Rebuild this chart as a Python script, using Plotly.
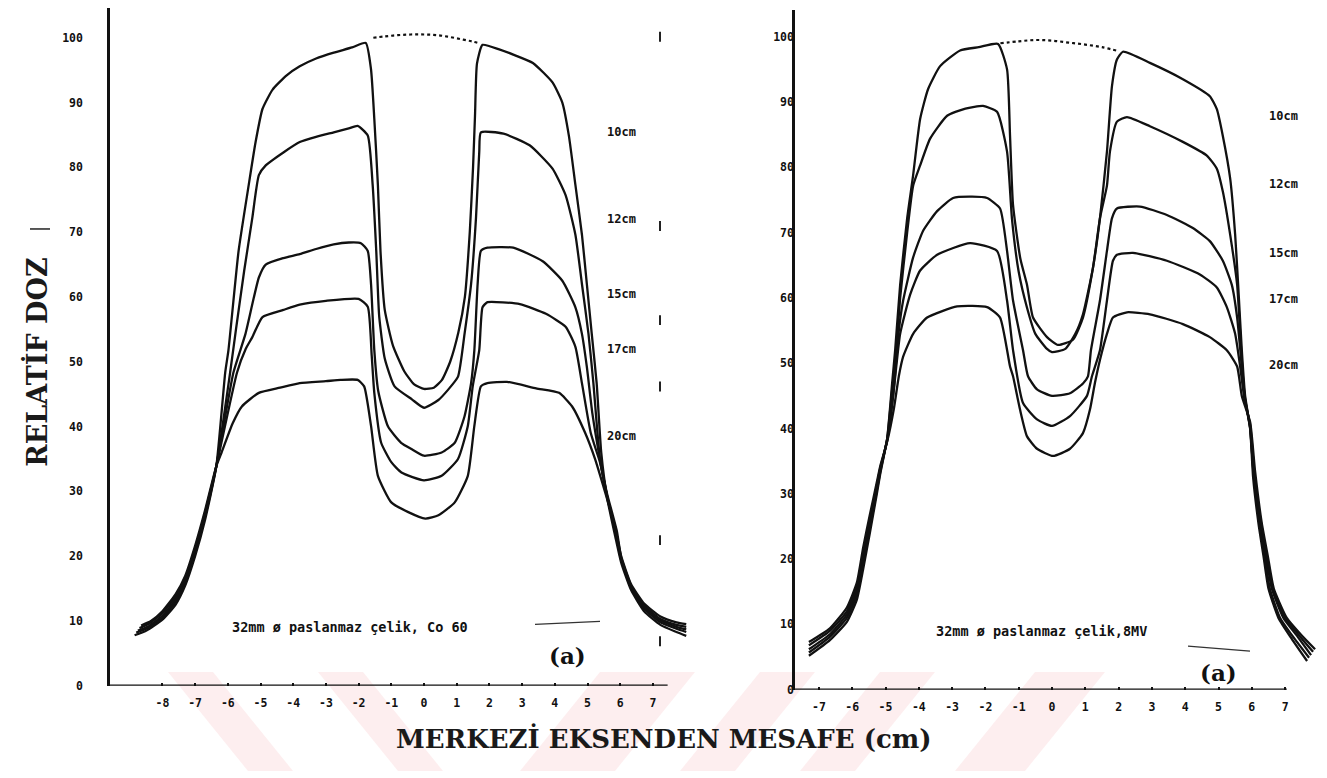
import plotly.graph_objects as go

# The page body has an 8px margin, so the figure is drawn 8px smaller and all
# reference pixel positions are shifted by 8px when converted to paper units.
REF_W, REF_H = 1327, 778
OFF = 8
FW, FH = REF_W - OFF, REF_H - OFF

# ---------------- data: left panel (Co 60) ----------------
L10_x = [-8.85,-8.5,-8.0,-7.6,-7.3,-7.0,-6.7,-6.35,-6.08,-5.98,-5.67,-5.36,-5.15,-4.94,-4.63,-4.2,-3.8,-3.3,-2.76,-2.2,
         -1.78,-1.62,-1.52,-1.41,-1.33,-1.2,-0.95,-0.6,-0.3,0.0,0.3,0.55,0.8,1.05,1.25,1.4,1.5,1.56,1.62,1.79,
         2.3,2.73,3.33,3.93,4.23,4.43,4.63,4.83,4.98,5.13,5.28,5.42,5.6,5.85,6.03,6.33,6.73,7.23,7.72,8.02]
L10_y = [7.8,8.5,10.2,12.5,15.5,20.0,25.5,33.9,48.3,51.8,67.1,77.3,83.9,89.0,92.0,94.2,95.6,96.8,97.7,98.5,
         99.2,95.1,87.5,77.3,67.0,58.0,52.5,48.5,46.5,45.8,46.0,47.2,50.0,54.5,60.0,70.0,80.0,88.0,96.0,98.9,
         98.2,97.4,96.1,93.1,90.0,84.9,77.3,69.6,62.0,54.3,46.7,36.0,29.0,23.0,19.0,14.8,11.5,9.4,8.3,7.7]

L12_x = [-8.8,-8.5,-8.0,-7.6,-7.3,-7.0,-6.7,-6.35,-5.93,-5.75,-5.5,-5.25,-5.05,-4.84,-4.3,-3.8,-3.3,-2.76,-2.3,-2.03,
         -1.72,-1.57,-1.46,-1.37,-1.2,-0.9,-0.37,0.0,0.44,0.74,1.04,1.24,1.44,1.59,1.69,1.74,2.43,3.23,3.93,4.33,
         4.63,4.83,5.03,5.18,5.38,5.6,5.87,6.03,6.33,6.73,7.23,7.72,8.02]
L12_y = [8.2,8.8,10.5,12.9,15.9,20.4,26.0,33.9,48.3,55.0,64.0,72.2,78.8,80.3,82.3,83.9,84.7,85.4,86.0,86.4,
         84.9,77.3,67.1,57.0,50.5,46.2,44.2,42.9,44.1,45.7,47.7,54.3,62.0,72.2,82.4,85.4,85.2,83.4,79.8,75.7,
         69.6,62.0,54.3,46.7,35.0,29.2,23.3,19.4,15.1,11.9,9.8,8.8,8.3]

L15_x = [-8.75,-8.45,-8.0,-7.6,-7.3,-7.0,-6.7,-6.35,-5.83,-5.46,-5.05,-4.84,-4.3,-3.8,-3.3,-2.76,-2.3,-1.93,-1.72,-1.62,
         -1.52,-1.4,-1.1,-0.7,-0.37,0.0,0.54,0.94,1.24,1.44,1.54,1.64,1.74,1.94,2.73,3.63,4.23,4.63,4.83,4.98,
         5.15,5.38,5.6,5.88,6.03,6.33,6.73,7.23,7.72,8.02]
L15_y = [8.5,9.1,10.8,13.3,16.2,20.8,26.3,33.9,48.3,54.3,63.0,65.0,66.0,66.6,67.4,68.1,68.4,68.3,67.1,62.0,
         51.8,45.5,40.0,37.5,36.5,35.5,36.0,37.5,41.6,46.7,51.8,62.0,67.1,67.6,67.6,65.5,62.5,58.4,54.3,49.2,
         42.0,35.0,29.3,23.5,19.6,15.3,12.2,10.1,9.1,8.7]

L17_x = [-8.7,-8.4,-8.0,-7.6,-7.3,-7.0,-6.7,-6.35,-5.72,-5.45,-5.25,-4.94,-4.3,-3.8,-3.0,-2.0,-1.72,-1.6,-1.52,-1.31,
         -1.0,-0.69,0.0,0.54,1.04,1.34,1.49,1.69,1.79,1.94,2.93,3.73,4.33,4.63,4.83,5.1,5.38,5.6,5.9,6.03,
         6.33,6.73,7.23,7.72,8.02]
L17_y = [8.9,9.6,11.2,13.7,16.6,21.2,26.6,33.9,48.3,52.0,53.8,56.9,58.0,58.8,59.4,59.7,58.5,51.0,45.2,37.5,
         34.5,32.9,31.7,32.4,35.0,40.1,46.2,51.8,58.4,59.2,58.9,57.4,55.4,52.3,46.7,39.0,34.5,29.6,23.8,19.8,
         15.5,12.4,10.3,9.4,9.1]

L20_x = [-8.65,-8.35,-8.0,-7.6,-7.3,-7.0,-6.7,-6.35,-6.19,-5.85,-5.57,-5.05,-4.4,-3.8,-3.0,-2.55,-2.03,-1.83,-1.62,-1.41,
         -1.0,-0.48,0.04,0.44,0.94,1.34,1.54,1.74,1.94,2.54,3.43,4.13,4.53,4.93,5.23,5.63,5.83,6.03,6.33,6.73,
         7.23,7.72,8.02]
L20_y = [9.3,10.0,11.5,14.1,17.0,21.6,27.0,33.9,36.0,40.5,43.1,45.2,46.0,46.7,47.0,47.2,47.2,46.2,40.1,32.4,
         28.3,26.8,25.8,26.3,28.3,32.4,40.1,46.2,46.7,46.9,45.9,45.2,43.1,39.0,35.0,28.3,24.8,20.0,15.7,12.7,
         10.7,9.8,9.5]

LDOT_x = [-1.55,-1.2,-0.8,-0.4,0.0,0.4,0.8,1.2,1.5,1.72]
LDOT_y = [100.0,100.2,100.4,100.5,100.5,100.4,100.1,99.7,99.4,99.1]

# ---------------- data: right panel (8 MV) ----------------
R10_x = [-7.3,-6.67,-6.16,-5.86,-5.67,-5.47,-5.26,-5.16,-4.95,-4.8,-4.71,-4.56,-4.35,-4.17,-3.96,-3.72,-3.36,-2.76,-2.2,-1.62,
         -1.35,-1.26,-1.17,-0.95,-0.75,-0.57,-0.15,0.18,0.63,0.93,1.23,1.44,1.65,1.8,1.95,2.13,2.94,3.93,4.74,4.95,
         5.13,5.35,5.5,5.59,5.7,5.8,5.95,6.04,6.2,6.35,6.5,6.8,7.2,7.66]
R10_y = [5.2,7.6,10.4,13.8,18.5,24.0,30.0,33.0,38.5,47.0,52.0,62.0,72.2,78.8,87.4,92.0,95.5,97.9,98.4,98.9,
         95.0,84.8,74.2,66.0,62.0,57.0,54.0,52.8,53.6,57.0,64.6,72.2,82.4,92.4,96.5,97.7,96.0,93.5,90.9,88.9,
         84.8,78.3,69.7,62.0,52.0,45.0,40.0,32.5,25.5,20.5,15.5,11.0,7.8,4.4]

R12_x = [-7.3,-6.67,-6.16,-5.86,-5.67,-5.47,-5.26,-5.16,-4.95,-4.8,-4.71,-4.56,-4.35,-4.17,-3.96,-3.66,-3.15,-2.6,-2.07,-1.65,
         -1.35,-1.2,-1.0,-0.75,-0.5,-0.15,0.0,0.4,0.7,0.93,1.23,1.44,1.65,1.74,1.95,2.25,2.94,3.93,4.65,4.95,
         5.13,5.35,5.56,5.68,5.78,5.95,6.06,6.24,6.39,6.54,6.85,7.27,7.72]
R12_y = [5.7,8.1,11.0,14.5,19.3,24.7,30.5,33.3,38.4,46.0,50.0,60.0,70.0,77.2,80.3,84.4,87.9,89.0,89.4,88.5,
         82.4,72.0,64.0,58.5,54.5,52.2,51.7,52.2,54.5,57.5,64.6,72.2,77.2,82.4,87.0,87.7,86.3,83.9,81.8,79.8,
         76.3,69.7,62.0,52.0,45.0,40.0,32.6,25.5,20.5,15.5,11.0,7.9,4.9]

R15_x = [-7.3,-6.67,-6.16,-5.86,-5.67,-5.47,-5.26,-5.16,-4.95,-4.77,-4.6,-4.47,-4.17,-3.87,-3.45,-2.97,-2.4,-1.95,-1.56,-1.35,
         -1.17,-0.87,-0.72,-0.45,0.0,0.54,0.93,1.08,1.17,1.44,1.65,1.8,1.95,2.64,3.45,4.23,4.74,5.13,5.4,5.56,
         5.7,5.8,5.95,6.06,6.27,6.43,6.6,6.95,7.38,7.78]
R15_y = [6.2,8.5,11.5,15.1,20.1,25.4,30.9,33.6,38.3,45.0,55.0,59.6,66.2,70.3,73.3,75.3,75.5,75.3,73.7,67.2,
         59.6,52.0,48.0,46.0,45.0,45.4,46.9,48.0,52.0,59.6,67.2,72.2,73.7,74.0,72.7,70.7,68.7,65.7,62.0,57.0,
         49.5,44.5,40.2,32.8,25.5,20.5,15.5,11.0,8.1,5.3]

R17_x = [-7.3,-6.67,-6.16,-5.86,-5.67,-5.47,-5.26,-5.16,-4.95,-4.75,-4.56,-4.26,-3.96,-3.45,-2.46,-1.65,-1.35,-1.17,-0.87,-0.45,
         0.0,0.54,1.05,1.2,1.44,1.65,1.83,1.95,2.43,3.45,4.44,4.95,5.25,5.5,5.65,5.78,5.95,6.08,6.28,6.45,
         6.63,7.0,7.44,7.84]
R17_y = [6.8,9.0,12.0,15.8,21.0,26.1,31.3,33.9,38.1,46.0,54.5,60.5,64.2,66.6,68.4,67.2,59.6,52.0,43.9,41.4,
         40.4,41.9,45.0,48.0,52.0,59.6,65.7,66.6,66.9,65.7,63.6,61.6,58.6,54.5,49.5,44.5,40.6,33.0,25.5,20.5,
         15.5,11.0,8.2,5.8]

R20_x = [-7.3,-6.67,-6.16,-5.86,-5.67,-5.47,-5.26,-5.16,-4.95,-4.75,-4.6,-4.47,-4.17,-3.75,-2.85,-1.95,-1.56,-1.26,-1.17,-0.96,
         -0.75,-0.45,0.03,0.54,0.93,1.14,1.29,1.44,1.65,1.83,2.25,2.94,3.93,4.74,5.25,5.56,5.7,5.95,6.1,6.3,
         6.48,6.66,7.05,7.5,7.9]
R20_y = [7.3,9.4,12.6,16.4,21.8,26.8,31.8,34.2,38.0,43.0,48.0,51.0,54.5,57.0,58.7,58.6,57.0,49.5,48.0,42.9,
         38.8,36.9,35.8,36.9,39.3,42.9,47.0,50.5,54.5,57.0,57.8,57.5,56.0,54.0,52.0,49.5,45.0,41.0,33.4,25.5,
         20.5,15.5,11.0,8.3,6.2]

RDOT_x = [-1.55,-1.0,-0.5,0.0,0.5,1.0,1.5,2.0]
RDOT_y = [99.0,99.3,99.5,99.4,99.1,98.8,98.4,97.8]

# labels
depth_labels = ["10cm", "12cm", "15cm", "17cm", "20cm"]
left_label_y = [85.5, 72.0, 60.4, 52.0, 38.5]
right_label_y = [87.9, 77.5, 66.9, 59.8, 49.8]
y_ticks = list(range(0, 101, 10))
left_x_ticks = list(range(-8, 8))
right_x_ticks = list(range(-7, 8))
left_caption = "32mm ø paslanmaz çelik, Co 60"
right_caption = "32mm ø paslanmaz çelik,8MV"
y_title = "RELATİF DOZ"
x_title = "MERKEZİ EKSENDEN MESAFE (cm)"

# ---------------- geometry helpers (reference pixels -> paper) ----------------
def fx(p):
    return (p - OFF) / FW

def fy(p):
    return 1 - (p - OFF) / FH

# left panel mapping: x_px = 424 + 32.7*x ; y_px = 692 - 6.54*v
L_X0, L_XS = 424.0, 32.7
L_Y0, L_YS = 692.0, 6.54
# right panel mapping: x_px = 1052 + 33.3*x ; y_px = 696 - 6.59*v
R_X0, R_XS = 1052.0, 33.3
R_Y0, R_YS = 696.0, 6.59

fig = go.Figure()

line_style = dict(color="#111111", width=2.3, shape="spline", smoothing=0.5)
dot_style = dict(color="#111111", width=2.2, dash="dot", shape="spline")

for xs, ys in [(L10_x, L10_y), (L12_x, L12_y), (L15_x, L15_y), (L17_x, L17_y), (L20_x, L20_y)]:
    fig.add_trace(go.Scatter(x=xs, y=ys, mode="lines", line=line_style,
                             xaxis="x", yaxis="y", hoverinfo="skip", showlegend=False))
fig.add_trace(go.Scatter(x=LDOT_x, y=LDOT_y, mode="lines", line=dot_style,
                         xaxis="x", yaxis="y", hoverinfo="skip", showlegend=False))

for xs, ys in [(R10_x, R10_y), (R12_x, R12_y), (R15_x, R15_y), (R17_x, R17_y), (R20_x, R20_y)]:
    fig.add_trace(go.Scatter(x=xs, y=ys, mode="lines", line=line_style,
                             xaxis="x2", yaxis="y2", hoverinfo="skip", showlegend=False))
fig.add_trace(go.Scatter(x=RDOT_x, y=RDOT_y, mode="lines", line=dot_style,
                         xaxis="x2", yaxis="y2", hoverinfo="skip", showlegend=False))

tick_font = dict(family="DejaVu Sans Mono", size=11.5, color="#111111", weight="bold")

common_x = dict(showgrid=False, zeroline=False, showline=False, ticks="inside", ticklen=3,
                tickwidth=2, tickcolor="#111111", tickfont=tick_font, ticklabelstandoff=9)
common_y = dict(showgrid=False, zeroline=False, showline=True, linecolor="#111111", linewidth=2.5,
                ticks="", tickvals=y_ticks, tickfont=tick_font)

fig.update_layout(
    width=FW, height=FH,
    margin=dict(l=0, r=0, t=0, b=0),
    paper_bgcolor="white", plot_bgcolor="rgba(0,0,0,0)",
    showlegend=False,
    xaxis=dict(domain=[fx(110), fx(700)],
               range=[(110 - L_X0) / L_XS, (700 - L_X0) / L_XS],
               anchor="y", tickvals=left_x_ticks, ticktext=[str(v) for v in left_x_ticks], **common_x),
    yaxis=dict(domain=[fy(L_Y0), fy(8)], range=[0, (L_Y0 - 8) / L_YS], anchor="x",
               ticklabelstandoff=22, **common_y),
    xaxis2=dict(domain=[fx(795), 1.0],
                range=[(795 - R_X0) / R_XS, (REF_W - R_X0) / R_XS],
                anchor="y2", tickvals=right_x_ticks, ticktext=[str(v) for v in right_x_ticks], **common_x),
    yaxis2=dict(domain=[fy(R_Y0), fy(10)], range=[0, (R_Y0 - 10) / R_YS], anchor="x2",
                ticklabelstandoff=-4, **common_y),
)

shapes = []
# x axis lines (drawn in data coordinates of each panel)
shapes.append(dict(type="line", xref="x", yref="y", x0=(110 - L_X0) / L_XS, x1=7.45, y0=0, y1=0,
                   line=dict(color="#111111", width=2.5)))
shapes.append(dict(type="line", xref="x2", yref="y2", x0=(795 - R_X0) / R_XS, x1=7.05, y0=0, y1=0,
                   line=dict(color="#111111", width=2.5)))

# faint pink watermark stripes at the bottom
pink = "rgba(240,140,150,0.15)"
def para(x_top, width, dx):
    y0, y1 = 678, 778
    return dict(type="path", xref="paper", yref="paper", layer="below",
                path=f"M {fx(x_top)},{fy(y0)} L {fx(x_top+width)},{fy(y0)} "
                     f"L {fx(x_top+width+dx)},{fy(y1)} L {fx(x_top+dx)},{fy(y1)} Z",
                fillcolor=pink, line=dict(width=0))
for xt in [168, 318]:
    shapes.append(para(xt, 45, 80))
shapes.append(para(600, 95, -80))
for xt in [760, 880]:
    shapes.append(para(xt, 55, -80))
shapes.append(para(1035, 70, -80))

# small scan marks
for yy in [37, 228, 323, 390, 545, 647]:
    shapes.append(dict(type="line", xref="paper", yref="paper", x0=fx(660), x1=fx(660),
                       y0=fy(yy - 5), y1=fy(yy + 5), line=dict(color="#222222", width=2)))
shapes.append(dict(type="line", xref="paper", yref="paper", x0=fx(30), x1=fx(50),
                   y0=fy(231), y1=fy(231), line=dict(color="#222222", width=1.5)))
# short dashes near captions
shapes.append(dict(type="line", xref="paper", yref="paper", x0=fx(535), x1=fx(600),
                   y0=fy(630), y1=fy(627), line=dict(color="#333333", width=1.2)))
shapes.append(dict(type="line", xref="paper", yref="paper", x0=fx(1188), x1=fx(1250),
                   y0=fy(652), y1=fy(657), line=dict(color="#333333", width=1.2)))
fig.update_layout(shapes=shapes)

ann = []
label_font = dict(family="DejaVu Sans Mono", size=12, color="#111111", weight="bold")
for lab, yv in zip(depth_labels, left_label_y):
    ann.append(dict(x=6.05, y=yv, xref="x", yref="y", text=lab, showarrow=False,
                    font=label_font, xanchor="center", yanchor="middle"))
for lab, yv in zip(depth_labels, right_label_y):
    ann.append(dict(x=6.94, y=yv, xref="x2", yref="y2", text=lab, showarrow=False,
                    font=label_font, xanchor="center", yanchor="middle"))
cap_font = dict(family="DejaVu Sans Mono", size=13.5, color="#111111", weight="bold")
ann.append(dict(x=fx(350), y=fy(633), xref="paper", yref="paper", text=left_caption,
                showarrow=False, font=cap_font, xanchor="center", yanchor="middle"))
ann.append(dict(x=fx(1041), y=fy(637), xref="paper", yref="paper", text=right_caption,
                showarrow=False, font=cap_font, xanchor="center", yanchor="middle"))
a_font = dict(family="DejaVu Serif", size=23, color="#111111", weight="bold")
ann.append(dict(x=fx(567), y=fy(661), xref="paper", yref="paper", text="(a)",
                showarrow=False, font=a_font, xanchor="center", yanchor="middle"))
ann.append(dict(x=fx(1218), y=fy(679), xref="paper", yref="paper", text="(a)",
                showarrow=False, font=a_font, xanchor="center", yanchor="middle"))
ann.append(dict(x=fx(37), y=fy(366), xref="paper", yref="paper", text=y_title, textangle=-90,
                showarrow=False, font=dict(family="DejaVu Serif", size=27, color="#1a1a1a", weight="bold"),
                xanchor="center", yanchor="middle"))
ann.append(dict(x=fx(664), y=fy(745), xref="paper", yref="paper", text=x_title,
                showarrow=False, font=dict(family="DejaVu Serif", size=26, color="#1a1a1a", weight="bold"),
                xanchor="center", yanchor="middle"))
fig.update_layout(annotations=ann)

fig.write_html("out.html")
